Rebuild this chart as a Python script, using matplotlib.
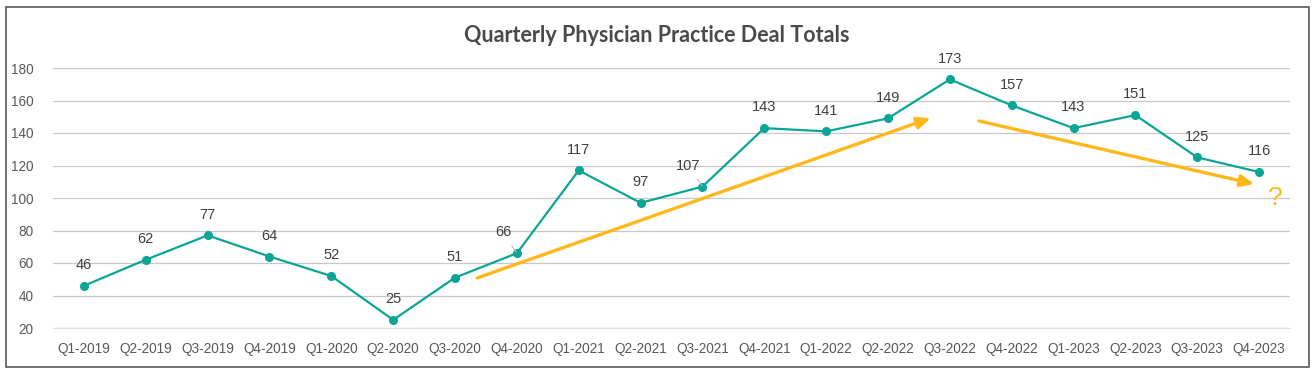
import matplotlib
matplotlib.use("Agg")
import matplotlib.pyplot as plt
from matplotlib.patches import Rectangle

# data
quarters = ["Q1-2019", "Q2-2019", "Q3-2019", "Q4-2019", "Q1-2020", "Q2-2020",
            "Q3-2020", "Q4-2020", "Q1-2021", "Q2-2021", "Q3-2021", "Q4-2021",
            "Q1-2022", "Q2-2022", "Q3-2022", "Q4-2022", "Q1-2023", "Q2-2023",
            "Q3-2023", "Q4-2023"]
deals = [46, 62, 77, 64, 52, 25, 51, 66, 117, 97, 107, 143, 141, 149, 173,
         157, 143, 151, 125, 116]
y_ticks = [20, 40, 60, 80, 100, 120, 140, 160, 180]

# trend arrows drawn on top (data coords: start x, start y, end x, end y)
up_arrow = [6.36, 50.8, 13.69, 149.2]
down_arrow = [14.47, 147.4, 18.92, 108.6]
question_pos = [19.27, 100.0]

teal = "#0BA596"
orange = "#FFB81C"
text_gray = "#595959"

plt.rcParams['font.family'] = ['Liberation Sans', 'DejaVu Sans']

fig = plt.figure(figsize=(13.16, 3.74), dpi=100)
ax = fig.add_axes([53 / 1316, 1 - 328 / 374, (1290 - 53) / 1316, (328 - 68) / 374])

x = list(range(len(quarters)))
ax.plot(x, deals, color=teal, lw=1.6, marker="o", ms=5.5, zorder=3)

# data labels; two of them sit up-left with a leader line
for i, v in enumerate(deals):
    if quarters[i] in ("Q4-2020", "Q3-2021"):
        ax.annotate(str(v), (i, v), xytext=(-10, 15), textcoords="offset points",
                    ha="center", va="center", fontsize=10.5, color="#404040",
                    arrowprops=dict(arrowstyle="-", color="#BFBFBF", lw=0.8,
                                    shrinkA=3, shrinkB=1))
    else:
        ax.annotate(str(v), (i, v), xytext=(0, 15), textcoords="offset points",
                    ha="center", va="center", fontsize=10.5, color="#404040")

ax.annotate("", xy=(up_arrow[2], up_arrow[3]), xytext=(up_arrow[0], up_arrow[1]),
            arrowprops=dict(arrowstyle="-|>,head_length=0.8,head_width=0.35",
                            color=orange, lw=2.4, shrinkA=0, shrinkB=0), zorder=2)
ax.annotate("", xy=(down_arrow[2], down_arrow[3]), xytext=(down_arrow[0], down_arrow[1]),
            arrowprops=dict(arrowstyle="-|>,head_length=0.8,head_width=0.35",
                            color=orange, lw=2.4, shrinkA=0, shrinkB=0), zorder=2)
ax.text(question_pos[0], question_pos[1], "?", color=orange, fontsize=19,
        ha="center", va="center")

ax.set_xlim(-0.5, len(quarters) - 0.5)
ax.set_ylim(20, 180)
ax.set_yticks(y_ticks)
ax.set_xticks(x)
ax.set_xticklabels(quarters)
ax.tick_params(axis="both", length=0, labelsize=9.8, labelcolor=text_gray)
ax.tick_params(axis="x", pad=10)
ax.tick_params(axis="y", pad=14)

ax.grid(axis="y", color="#C8C8C8", lw=0.9)
ax.set_axisbelow(True)
for s in ["top", "right", "left"]:
    ax.spines[s].set_visible(False)
ax.spines["bottom"].set_color("#E0E0E0")

fig.text(657 / 1316, 1 - 35 / 374, "Quarterly Physician Practice Deal Totals",
         ha="center", va="center", fontsize=15.5, fontweight="bold",
         color="#4A4A4A", family=["Lato", "DejaVu Sans"])

# chart border
fig.patches.append(Rectangle((6 / 1316, 1 - 367 / 374), (1309 - 6) / 1316,
                             (367 - 7) / 374, transform=fig.transFigure,
                             fill=False, edgecolor="#595959", lw=1.2))

fig.savefig("out.png", dpi=100, facecolor="white")
